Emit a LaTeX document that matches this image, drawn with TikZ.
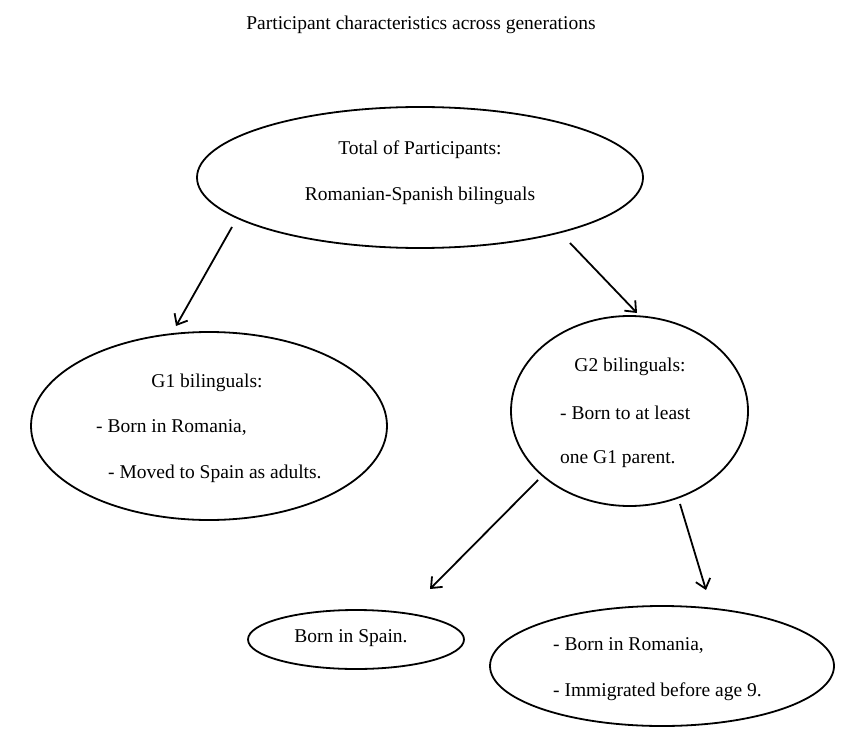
\documentclass[tikz,border=0pt]{standalone}
\usepackage{fontspec}
\setmainfont{Liberation Serif}
\usetikzlibrary{shapes.geometric,arrows.meta}
\begin{document}
\begin{tikzpicture}[x=1pt,y=-1pt,
  bubble/.style={draw,line width=1.8pt,ellipse,inner sep=0pt},
  txt/.style={inner sep=0pt,font=\fontsize{19.5}{22}\selectfont},
  conn/.style={line width=1.8pt,-{Straight Barb[length=9pt,width=15pt,line width=1.8pt]}}]
\useasboundingbox (0,0) rectangle (858,743);
\node[txt] (title) at (421,25) {Participant characteristics across generations};
% ellipses
\node[bubble,minimum width=446pt,minimum height=141pt] (top) at (420,177.5) {};
\node[bubble,minimum width=356pt,minimum height=188pt] (g1) at (209,426) {};
\node[bubble,minimum width=237pt,minimum height=190pt] (g2) at (629.5,411) {};
\node[bubble,minimum width=216pt,minimum height=59pt] (spain) at (356,639.5) {};
\node[bubble,minimum width=344pt,minimum height=120pt] (rom) at (662,666) {};
% texts
\node[txt] (t1) at (420,150) {Total of Participants:};
\node[txt] (t2) at (420,196) {Romanian-Spanish bilinguals};
\node[txt] (a1) at (207,383) {G1 bilinguals:};
\node[txt,anchor=west] (a2) at (96,428) {- Born in Romania,};
\node[txt,anchor=west] (a3) at (108,474) {- Moved to Spain as adults.};
\node[txt] (b1) at (630,367) {G2 bilinguals:};
\node[txt,anchor=west] (b2) at (560,413) {- Born to at least};
\node[txt,anchor=west] (b3) at (560,459) {one G1 parent.};
\node[txt] (c1) at (351,638) {Born in Spain.};
\node[txt,anchor=west] (d1) at (553,646) {- Born in Romania,};
\node[txt,anchor=west] (d2) at (553,692) {- Immigrated before age 9.};
% connector ends
\coordinate (s1) at (232,227); \coordinate (e1) at (176,326);
\coordinate (s2) at (570,243); \coordinate (e2) at (637,313);
\coordinate (s3) at (538,480); \coordinate (e3) at (430,589);
\coordinate (s4) at (680,504); \coordinate (e4) at (706,590);
\draw[conn] (s1) -- (e1);
\draw[conn] (s2) -- (e2);
\draw[conn] (s3) -- (e3);
\draw[conn] (s4) -- (e4);
\end{tikzpicture}
\end{document}
